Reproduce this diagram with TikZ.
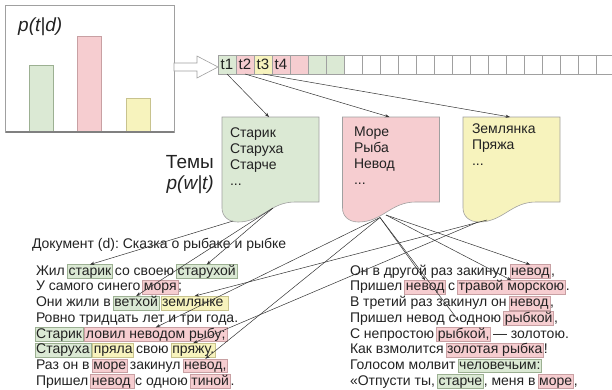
\documentclass[tikz,border=0pt]{standalone}
\usepackage{fontspec}
\setmainfont{Liberation Sans}
\usetikzlibrary{arrows.meta}
\frenchspacing
\definecolor{cg}{HTML}{DBE9D4}
\definecolor{cp}{HTML}{F6CDD0}
\definecolor{cy}{HTML}{F7F3BD}
\definecolor{bgr}{HTML}{9CB092}
\definecolor{bpk}{HTML}{C8A0A3}
\definecolor{byl}{HTML}{C8C38E}
\definecolor{frame}{HTML}{A0A0A0}
\definecolor{ink}{HTML}{222222}
\definecolor{lnk}{HTML}{333333}
\newcommand\bodyf{\fontsize{14bp}{16bp}\selectfont}
\newcommand\cellf{\fontsize{15bp}{17bp}\selectfont}
\newcommand\topf{\fontsize{14bp}{16bp}\selectfont}
\newcommand\bigf{\fontsize{19bp}{21bp}\selectfont}
\newcommand\ddd{...}
\begin{document}
\begin{tikzpicture}[x=1bp,y=-1bp,
  tx/.style={anchor=base west, inner sep=0pt, outer sep=0pt, font=\bodyf, text=ink},
  hl/.style={tx, inner xsep=1.2bp, inner ysep=0.4bp, text height=10.2bp, text depth=2.9bp, line width=0.6bp},
  hg/.style={hl, fill=cg, draw=bgr},
  hp/.style={hl, fill=cp, draw=bpk},
  hy/.style={hl, fill=cy, draw=byl},
  tp/.style={anchor=base west, inner sep=0pt, outer sep=0pt, font=\topf, text=ink},
  cell/.style={draw=frame, line width=0.6bp, minimum width=18bp, minimum height=19bp, inner sep=0pt, outer sep=0pt, font=\cellf, text=ink},
  con/.style={draw=lnk, line width=0.5bp, -{Stealth[length=4.5bp,width=3.2bp]}}]
\useasboundingbox (0,0) rectangle (612,389);

% distribution box
\draw[frame, line width=0.6bp] (5.5,5) rectangle (174,132);
\filldraw[fill=cg, draw=bgr, line width=0.6bp] (29.5,65) rectangle (53.5,132);
\filldraw[fill=cp, draw=bpk, line width=0.6bp] (77.5,36) rectangle (101.5,132);
\filldraw[fill=cy, draw=byl, line width=0.6bp] (126,98) rectangle (150.5,132);
\draw[gray, line width=1.2bp] (5.5,132) -- (174,132);
\node[anchor=base west, inner sep=0pt, font=\bigf\itshape, text=ink] (ptd) at (18,31) {p(t|d)};

% hollow arrow
\filldraw[fill=white, draw=frame, line width=0.6bp] (174,63) -- (197,63) -- (197,56) -- (218,67) -- (197,78) -- (197,71) -- (174,71) -- cycle;

% cells
\foreach \i/\f/\t in {1/cg/t1, 2/cp/t2, 3/cy/t3, 4/cp/t4, 5/cp/, 6/cg/, 7/cg/}
  \node[cell, fill=\f] (c\i) at (227+18*\i-18, 64.5) {\t};
\foreach \i in {8,...,22}
  \node[cell, fill=white] (c\i) at (227+18*\i-18, 64.5) {};

% topic shapes
\foreach \nm/\sx/\fc in {G/0/cg, P/120.5/cp, Y/241/cy}{
  \filldraw[fill=\fc, draw=frame, line width=0.6bp] (222+\sx,117) -- (319+\sx,117) -- (319+\sx,202) -- (295+\sx,202)
    .. controls (270+\sx,202) and (262+\sx,222) .. (238+\sx,222)
    .. controls (228+\sx,222) and (222+\sx,216) .. (222+\sx,208) -- cycle;
  \coordinate (\nm top) at (269+\sx,117);
}
\coordinate (G1) at (233,221);
\coordinate (G2) at (273,208);
\coordinate (P1) at (380,217.5);
\coordinate (P2) at (386,215);
\coordinate (Y1) at (487,220);
\coordinate (Y2) at (478,222);

\foreach \i/\w in {1/Старик, 2/Старуха, 3/Старче, 4/\ddd}
  \node[tp] (g\i) at (230, 137.5+16*\i-16) {\w};
\foreach \i/\w in {1/Море, 2/Рыба, 3/Невод, 4/\ddd}
  \node[tp] (p\i) at (354, 136.5+16*\i-16) {\w};
\foreach \i/\w in {1/Землянка, 2/Пряжа, 3/\ddd}
  \node[tp] (y\i) at (472, 133.5+16*\i-16) {\w};

\node[anchor=base east, inner sep=0pt, font=\bigf, text=ink] (temy) at (214,168) {Темы};
\node[anchor=base east, inner sep=0pt, font=\bigf\itshape, text=ink] (pwt) at (214,189) {p(w|t)};

% document title
\node[tx] (title) at (32,248.5) {Документ (d): Сказка о рыбаке и рыбке};

% left column
\node[tx] (l1a) at (36,275.2) {Жил};
\node[hg] (wstarik) at ([xshift=2.4bp]l1a.base east) {старик};
\node[tx] (l1b) at ([xshift=2.4bp]wstarik.base east) {со своею};
\node[hg] (wstaruhoy) at ([xshift=2.4bp]l1b.base east) {старухой};

\node[tx] (l2a) at (36,290.9) {У самого синего};
\node[hp] (wmorya) at ([xshift=2.4bp]l2a.base east) {моря};
\node[tx] (l2b) at ([xshift=0.4bp]wmorya.base east) {;};

\node[tx] (l3a) at (36,306.6) {Они жили в};
\node[hg] (wvethoy) at ([xshift=2.4bp]l3a.base east) {ветхой};
\node[hy] (wzeml) at ([xshift=1.8bp]wvethoy.base east) {землянке\kern4bp};

\node[tx] (l4) at (36,322.3) {Ровно тридцать лет и три года.};

\node[hg] (wstarik2) at (35,338) {Старик};
\node[hp] (wlovil) at ([xshift=1.5bp]wstarik2.base east) {ловил неводом рыбу;};

\node[hg] (wstaruha) at (35,353.7) {Старуха};
\node[hy] (wpryala) at ([xshift=1.8bp]wstaruha.base east) {пряла};
\node[tx] (l6a) at ([xshift=2.4bp]wpryala.base east) {свою};
\node[hy] (wpryazhu) at ([xshift=2.4bp]l6a.base east) {пряжу.};

\node[tx] (l7a) at (36,369.4) {Раз он в};
\node[hp] (wmore) at ([xshift=2.4bp]l7a.base east) {море};
\node[tx] (l7b) at ([xshift=2.4bp]wmore.base east) {закинул};
\node[hp] (wnevod1) at ([xshift=2.4bp]l7b.base east) {невод,};

\node[tx] (l8a) at (36,385.1) {Пришел};
\node[hp] (wnevod2) at ([xshift=2.4bp]l8a.base east) {невод\kern3bp};
\node[tx] (l8b) at ([xshift=0.6bp]wnevod2.base east) {с одною};
\node[hp] (wtinoy) at ([xshift=2.4bp]l8b.base east) {тиной};
\node[tx] (l8c) at ([xshift=0.4bp]wtinoy.base east) {.};

% right column
\node[tx] (r1a) at (350,275.2) {Он в другой раз закинул};
\node[hp] (rnevod1) at ([xshift=2.4bp]r1a.base east) {невод};
\node[tx] (r1b) at ([xshift=0.4bp]rnevod1.base east) {,};

\node[tx] (r2a) at (350,290.9) {Пришел};
\node[hp] (rnevod2) at ([xshift=2.4bp]r2a.base east) {невод};
\node[tx] (r2b) at ([xshift=2.4bp]rnevod2.base east) {с};
\node[hp] (rtravoy) at ([xshift=2.4bp]r2b.base east) {травой морскою};
\node[tx] (r2c) at ([xshift=0.4bp]rtravoy.base east) {.};

\node[tx] (r3a) at (350,306.6) {В третий раз закинул он};
\node[hp] (rnevod3) at ([xshift=2.4bp]r3a.base east) {невод};
\node[tx] (r3b) at ([xshift=0.4bp]rnevod3.base east) {,};

\node[tx] (r4a) at (350,322.3) {Пришел невод с одною};
\node[hp] (rrybkoy1) at ([xshift=2.4bp]r4a.base east) {рыбкой};
\node[tx] (r4b) at ([xshift=0.4bp]rrybkoy1.base east) {,};

\node[tx] (r5a) at (350,338) {С непростою};
\node[hp] (rrybkoy2) at ([xshift=2.4bp]r5a.base east) {рыбкой,};
\node[tx] (r5b) at ([xshift=2.4bp]rrybkoy2.base east) {— золотою.};

\node[tx] (r6a) at (350,353.7) {Как взмолится};
\node[hp] (rzolotaya) at ([xshift=2.4bp]r6a.base east) {золотая рыбка};
\node[tx] (r6b) at ([xshift=0.4bp]rzolotaya.base east) {!};

\node[tx] (r7a) at (350,369.4) {Голосом молвит};
\node[hg] (rchel) at ([xshift=2.4bp]r7a.base east) {человечьим:};

\node[tx] (r8a) at (350,385.1) {«Отпусти ты,};
\node[hg] (rstarche) at ([xshift=2.4bp]r8a.base east) {старче};
\node[tx] (r8b) at ([xshift=0.4bp]rstarche.base east) {, меня в};
\node[hp] (rmore) at ([xshift=2.4bp]r8b.base east) {море};
\node[tx] (r8c) at ([xshift=0.4bp]rmore.base east) {,};

% connectors: cells to topics
\draw[con] (c1.south) -- (Gtop);
\draw[con] (c2.south) -- (Ptop);
\draw[con] (c3.south) -- (Ytop);

% green topic to words
\draw[con] (G1) -- (wstarik.north);
\draw[con] (G2) -- (wstaruhoy.north);
\draw[con] (G2) -- (wvethoy.north);
% pink topic to words
\draw[con] (P1) -- (wlovil.north);
\draw[con] (P1) -- (wnevod1.north);
\draw[con] (P1) -- (rnevod2.north);
\draw[con, shorten >=8bp] (P1) -- (rrybkoy2.north);
\draw[con] (P2) -- (rnevod1.north);
\draw[con] (P2) -- (rtravoy.north);
% yellow topic to words
\draw[con] (Y1) -- (wzeml.north);
\draw[con] (Y2) -- (wpryazhu.north);
\end{tikzpicture}
\end{document}
